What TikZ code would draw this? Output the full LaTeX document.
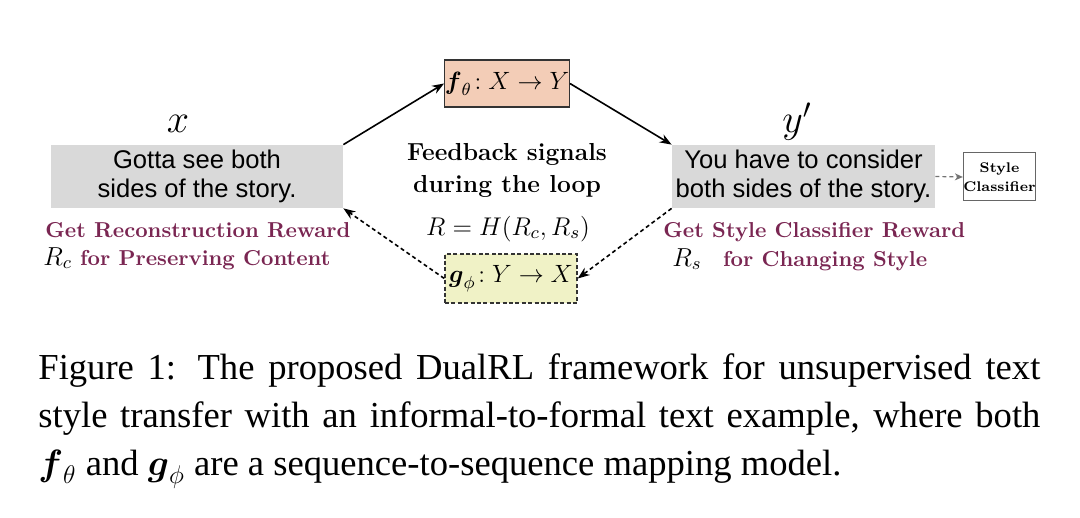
\RequirePackage{fix-cm}
\documentclass[tikz,border=0pt]{standalone}
\usepackage{amsmath}
\usepackage{fontspec}
\setmainfont{Liberation Serif}
\setsansfont{Liberation Sans}
\newfontfamily\lmfont{Latin Modern Roman}
\usetikzlibrary{arrows.meta}

\definecolor{boxgray}{RGB}{217,217,217}
\definecolor{fpeach}{RGB}{243,205,183}
\definecolor{gyellow}{RGB}{240,242,198}
\definecolor{plum}{RGB}{122,38,82}

\newcommand{\rmath}[1]{\textcolor{black}{\fontsize{13}{15}\selectfont$#1$}}

\tikzset{
  sentbox/.style={fill=boxgray, inner sep=0pt, align=center,
    font=\sffamily\fontsize{12.8}{14.5}\selectfont},
  mapbox/.style={draw=black!80, line width=0.7pt, inner sep=0pt,
    font=\fontsize{12.5}{15}\selectfont},
  reward/.style={text=plum, anchor=base west, inner sep=0pt,
    font=\lmfont\bfseries\fontsize{10.8}{13}\selectfont},
  loopline/.style={line width=0.8pt, -{Stealth[length=6pt,width=4.5pt]}},
  feedline/.style={loopline, dash pattern=on 2pt off 1.5pt},
}

\begin{document}
\begin{tikzpicture}[x=0.5pt, y=-0.5pt]
  \useasboundingbox (0,0) rectangle (1080,518);

  % the two sentences
  \node[sentbox, minimum width=146pt, minimum height=31.5pt] (xsent) at (197,176.5)
    {Gotta see both\\sides of the story.};
  \node[sentbox, minimum width=131.5pt, minimum height=31.5pt] (ysent) at (803.5,176.5)
    {You have to consider\\both sides of the story.};
  \node[anchor=base, inner sep=0pt, font=\fontsize{20}{24}\selectfont] (xlab) at (178,133) {$x$};
  \node[anchor=base, inner sep=0pt, font=\fontsize{20}{24}\selectfont] (ylab) at (797,133) {$y'$};

  % the two mappings
  \node[mapbox, fill=fpeach, minimum width=61pt, minimum height=23.5pt] (fmap) at (507,83.5)
    {$\boldsymbol{f}_{\theta}\!: X \rightarrow Y$};
  \node[mapbox, fill=gyellow, dash pattern=on 2pt off 1.2pt, minimum width=66pt, minimum height=24.5pt] (gmap) at (511,278.5)
    {$\boldsymbol{g}_{\phi}\!: Y \rightarrow X$};

  % style classifier
  \node[draw=black!60, line width=0.5pt, inner sep=0pt, align=center,
    minimum width=34.5pt, minimum height=24pt,
    font=\lmfont\bfseries\fontsize{7}{9.5}\selectfont] (clf) at (999.5,177) {Style\\Classifier};

  % feedback in the middle
  \node[align=center, inner sep=0pt, font=\lmfont\bfseries\fontsize{12.3}{16}\selectfont] (feed) at (507,170)
    {Feedback signals\\during the loop};
  \node[anchor=base, inner sep=0pt, font=\fontsize{12.8}{15}\selectfont] (rsum) at (508,235)
    {$R = H(R_c, R_s)$};

  % rewards
  \node[reward] (recon1) at (45,237) {Get Reconstruction Reward};
  \node[reward] (recon2) at (43,265) {\rmath{R_c}\ for Preserving Content};
  \node[reward] (style1) at (663,237) {Get Style Classifier Reward};
  \node[reward] (style2) at (672,266) {\rmath{R_s}\quad for Changing Style};

  % connectors
  \draw[loopline] (xsent.north east) -- (fmap.west);
  \draw[loopline] (fmap.east) -- (ysent.north west);
  \draw[feedline] (ysent.south west) -- (gmap.east);
  \draw[feedline] (gmap.west) -- (xsent.south east);
  \draw[black!55, line width=0.6pt, dash pattern=on 2pt off 1.5pt, -{Stealth[length=4pt,width=3.5pt]}] (ysent.east) -- (clf.west);

  % caption
  \node[anchor=north west, inner sep=0pt, text width=501pt, align=justify,
    font=\fontsize{18.3}{24}\selectfont] (caption) at (38,353)
    {\tolerance=10000 Figure 1: The proposed DualRL framework for unsupervised text\linebreak
     style transfer with an informal-to-formal text example, where both\linebreak
     $\boldsymbol{f}_{\theta}$ and $\boldsymbol{g}_{\phi}$ are a sequence-to-sequence mapping model.};
\end{tikzpicture}
\end{document}
